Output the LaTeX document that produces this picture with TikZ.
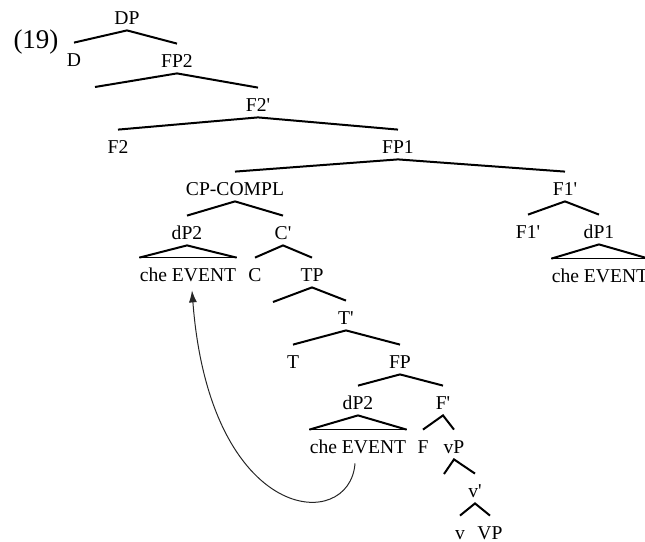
\documentclass[tikz,border=0pt]{standalone}
\usepackage{fontspec}
\setmainfont{Liberation Serif}
\usetikzlibrary{arrows.meta}
\newcommand{\qs}{\textquotesingle}
\begin{document}
\begin{tikzpicture}[x=0.5pt,y=-0.5pt,
                        every node/.style = {font=\fontsize{9.8}{12}\selectfont, inner xsep=0pt, inner ysep=2.7pt, text height=6.6pt, text depth=0pt},
                        branch/.style = {line width=1pt},
                        tribase/.style = {line width=0.5pt},
                        arrow/.style = {line width=0.5pt, black!85, -{Latex[length=6pt,width=4pt]}}]
                        \useasboundingbox (0,0) rectangle (645,542);

                        \node[font=\fontsize{13.5}{16}\selectfont] (num) at (36,42) {(19)};

                        \node (DP) at (127,18) {DP};
                        \node (D) at (74,60) {D};
                        \node (FP2) at (177,61) {FP2};
                        \node (F2bar) at (258,105) {F2\qs};
                        \node (F2) at (118,147) {F2};
                        \node (FP1) at (398,147) {FP1};
                        \node (CPcompl) at (235,189) {CP-COMPL};
                        \node (F1bar) at (565,189) {F1\qs};
                        \node (F1head) at (528,232) {F1\qs};
                        \node (dP1) at (599,232) {dP1};
                        \node (eventR) at (600,276) {che EVENT};
                        \node (dP2up) at (187,233) {dP2};
                        \node (Cbar) at (283,233) {C\qs};
                        \node (eventUp) at (188,275) {che EVENT};
                        \node (C) at (255,275) {C};
                        \node (TP) at (312,275) {TP};
                        \node (Tbar) at (346,318) {T\qs};
                        \node (T) at (293,362) {T};
                        \node (FP) at (400,362) {FP};
                        \node (dP2low) at (358,403) {dP2};
                        \node (Fbar) at (443,403) {F\qs};
                        \node (eventLow) at (358,447) {che EVENT};
                        \node (F) at (423,447) {F};
                        \node (vP) at (454,447) {vP};
                        \node (vbar) at (475,491) {v\qs};
                        \node (v) at (460,533) {v};
                        \node (VP) at (490,533) {VP};

                        \coordinate (FP2left) at (95,87);
                        \coordinate (TPleft) at (273,302);
                        \coordinate (vPleft) at (444,474);

                        \draw[branch] ([yshift=2.5pt]D.north) -- (DP.south) -- ([yshift=2.5pt]FP2.north);
                        \draw[branch] (FP2left) -- (FP2.south) -- ([yshift=2.5pt]F2bar.north);
                        \draw[branch] ([yshift=2.5pt]F2.north) -- (F2bar.south) -- ([yshift=2.5pt]FP1.north);
                        \draw[branch] ([yshift=2.5pt]CPcompl.north) -- (FP1.south) -- ([yshift=2.5pt]F1bar.north);
                        \draw[branch] ([yshift=2.5pt]F1head.north) -- (F1bar.south) -- ([yshift=2.5pt]dP1.north);
                        \draw[branch] ([yshift=2.5pt]dP2up.north) -- (CPcompl.south) -- ([yshift=2.5pt]Cbar.north);
                        \draw[branch] ([yshift=2.5pt]C.north) -- (Cbar.south) -- ([yshift=2.5pt]TP.north);
                        \draw[branch] (TPleft) -- (TP.south) -- ([yshift=2.5pt]Tbar.north);
                        \draw[branch] ([yshift=2.5pt]T.north) -- (Tbar.south) -- ([yshift=2.5pt]FP.north);
                        \draw[branch] ([yshift=2.5pt]dP2low.north) -- (FP.south) -- ([yshift=2.5pt]Fbar.north);
                        \draw[branch] ([yshift=2.5pt]F.north) -- (Fbar.south) -- ([yshift=2.5pt]vP.north);
                        \draw[branch] (vPleft) -- (vP.south) -- ([yshift=2.5pt]vbar.north);
                        \draw[branch] ([yshift=2.5pt]v.north) -- (vbar.south) -- ([yshift=2.5pt]VP.north);

                        \draw[branch] ([yshift=2.5pt]eventUp.north west) -- (dP2up.south) -- ([yshift=2.5pt]eventUp.north east);
                        \draw[tribase] ([yshift=2.5pt]eventUp.north west) -- ([yshift=2.5pt]eventUp.north east);
                        \draw[branch] ([yshift=2.5pt]eventLow.north west) -- (dP2low.south) -- ([yshift=2.5pt]eventLow.north east);
                        \draw[tribase] ([yshift=2.5pt]eventLow.north west) -- ([yshift=2.5pt]eventLow.north east);
                        \draw[branch] ([yshift=2.5pt]eventR.north west) -- (dP1.south) -- ([yshift=2.5pt]eventR.north east);
                        \draw[tribase] ([yshift=2.5pt]eventR.north west) -- ([yshift=2.5pt]eventR.north east);

                        \draw[arrow] ([xshift=-1.5pt,yshift=-2pt]eventLow.south) .. controls +(-5,70) and +(18,235) .. ([xshift=2pt,yshift=-1.5pt]eventUp.south);
                    \end{tikzpicture}
\end{document}
